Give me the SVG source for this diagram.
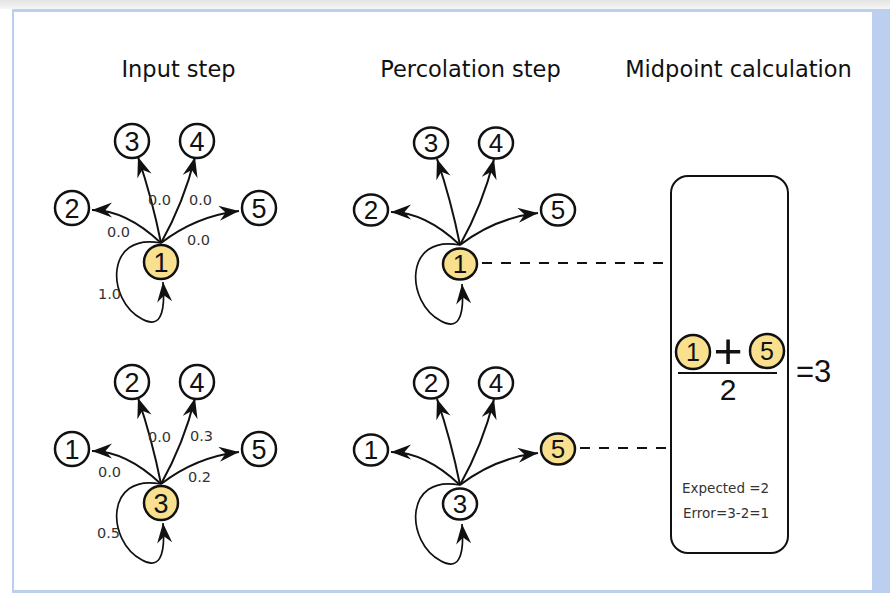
<svg xmlns="http://www.w3.org/2000/svg" xmlns:xlink="http://www.w3.org/1999/xlink" width="890" height="593" viewBox="0 0 890 593">
  <style>
    .title { font-family: "DejaVu Sans", Verdana, sans-serif; font-size: 22.5px; fill: #111; text-anchor: middle; }
    .wt { font-family: "DejaVu Sans", Verdana, sans-serif; font-size: 14.5px; fill: #333; }
    .node { fill: #fff; stroke: #111; stroke-width: 2.5; }
    .hot { fill: #f8e08e; }
    .nl { font-family: "Liberation Sans", Arial, sans-serif; font-size: 27px; fill: #111; text-anchor: middle; }
    .nm { font-family: "Liberation Sans", Arial, sans-serif; font-size: 26px; fill: #111; text-anchor: middle; }
    .edge { fill: none; stroke: #111; stroke-width: 2; marker-end: url(#arrow); }
    .loop { fill: none; stroke: #111; stroke-width: 1.7; marker-end: url(#arrow); }
    .dash { stroke: #111; stroke-width: 1.8; stroke-dasharray: 10 9; }
    .big { font-family: "Liberation Sans", Arial, sans-serif; font-size: 31px; fill: #111; }
  </style>
  <defs>
    <linearGradient id="topband" x1="0" y1="0" x2="0" y2="1">
      <stop offset="0" stop-color="#e4e4e4"/>
      <stop offset="1" stop-color="#f6f6f6"/>
    </linearGradient>
    <marker id="arrow" markerUnits="userSpaceOnUse" markerWidth="21" markerHeight="16" refX="20" refY="7.5" orient="auto">
      <path d="M0,0 L20,7.5 L0,15 L6.5,7.5 Z" fill="#111"/>
    </marker>
    <!-- fan of five out-edges from the centre node, drawn around origin (161,243) -->
    <g id="fan">
      <path class="edge" d="M161,243 Q126,210 92,210"/>
      <path class="edge" d="M161,243 Q152,198 138,157"/>
      <path class="edge" d="M161,243 Q184,202 195,157"/>
      <path class="edge" d="M161,243 Q196,216 239,211"/>
      <path class="loop" d="M161,243 C105,232 106,300 142,319 C158,328 166,318 163,282"/>
    </g>
  </defs>

  <!-- page frame -->
  <rect x="0" y="0" width="890" height="593" fill="#fff"/>
  <rect x="0" y="0" width="890" height="9" fill="url(#topband)"/>
  <rect x="12" y="9" width="878" height="3" fill="#bccfee"/>
  <rect x="12" y="9" width="2" height="584" fill="#bccfee"/>
  <rect x="872" y="9" width="18" height="584" fill="#bccfee"/>
  <rect x="12" y="590" width="878" height="3" fill="#bccfee"/>

  <!-- column titles -->
  <text class="title" x="178.5" y="77">Input step</text>
  <text class="title" x="470.5" y="77">Percolation step</text>
  <text class="title" x="738.5" y="77">Midpoint calculation</text>

  <!-- connectors -->
  <g id="connectors">
    <use xlink:href="#fan"/>
    <use xlink:href="#fan" transform="translate(0,241)"/>
    <use xlink:href="#fan" transform="translate(299,2)"/>
    <use xlink:href="#fan" transform="translate(299,242)"/>
    <line class="dash" x1="482" y1="263" x2="668" y2="263"/>
    <line class="dash" x1="580" y1="448" x2="668" y2="448"/>
  </g>

  <!-- edge weights -->
  <g id="weights-top">
    <text class="wt" x="148" y="205">0.0</text>
    <text class="wt" x="189" y="205">0.0</text>
    <text class="wt" x="107" y="237">0.0</text>
    <text class="wt" x="187" y="245">0.0</text>
    <text class="wt" x="98" y="299">1.0</text>
  </g>
  <g id="weights-bottom">
    <text class="wt" x="148" y="442">0.0</text>
    <text class="wt" x="190" y="441">0.3</text>
    <text class="wt" x="98" y="477">0.0</text>
    <text class="wt" x="188" y="482">0.2</text>
    <text class="wt" x="97" y="538">0.5</text>
  </g>

  <!-- input step, top graph -->
  <g id="a1"><circle class="node hot" cx="161" cy="262" r="17"/><text class="nl" x="161" y="271.5">1</text></g>
  <g id="a2"><circle class="node" cx="72" cy="208" r="17"/><text class="nl" x="72" y="217.5">2</text></g>
  <g id="a3"><circle class="node" cx="132" cy="141" r="17"/><text class="nl" x="132" y="150.5">3</text></g>
  <g id="a4"><circle class="node" cx="197" cy="141" r="17"/><text class="nl" x="197" y="150.5">4</text></g>
  <g id="a5"><circle class="node" cx="259" cy="208" r="17"/><text class="nl" x="259" y="217.5">5</text></g>

  <!-- input step, bottom graph -->
  <g id="b3"><circle class="node hot" cx="161" cy="503" r="17"/><text class="nl" x="161" y="512.5">3</text></g>
  <g id="b1"><circle class="node" cx="72" cy="449" r="17"/><text class="nl" x="72" y="458.5">1</text></g>
  <g id="b2"><circle class="node" cx="132" cy="382" r="17"/><text class="nl" x="132" y="391.5">2</text></g>
  <g id="b4"><circle class="node" cx="197" cy="382" r="17"/><text class="nl" x="197" y="391.5">4</text></g>
  <g id="b5"><circle class="node" cx="259" cy="449" r="17"/><text class="nl" x="259" y="458.5">5</text></g>

  <!-- percolation step, top graph -->
  <g id="c1"><ellipse class="node hot" cx="460" cy="264" rx="17" ry="15.5"/><text class="nm" x="460" y="273">1</text></g>
  <g id="c2"><ellipse class="node" cx="371" cy="210" rx="17" ry="15.5"/><text class="nm" x="371" y="219">2</text></g>
  <g id="c3"><ellipse class="node" cx="431" cy="143" rx="17" ry="15.5"/><text class="nm" x="431" y="152">3</text></g>
  <g id="c4"><ellipse class="node" cx="496" cy="143" rx="17" ry="15.5"/><text class="nm" x="496" y="152">4</text></g>
  <g id="c5"><ellipse class="node" cx="558" cy="210" rx="17" ry="15.5"/><text class="nm" x="558" y="219">5</text></g>

  <!-- percolation step, bottom graph -->
  <g id="d3"><ellipse class="node" cx="460" cy="504" rx="17" ry="15.5"/><text class="nm" x="460" y="513">3</text></g>
  <g id="d1"><ellipse class="node" cx="371" cy="450" rx="17" ry="15.5"/><text class="nm" x="371" y="459">1</text></g>
  <g id="d2"><ellipse class="node" cx="431" cy="383" rx="17" ry="15.5"/><text class="nm" x="431" y="392">2</text></g>
  <g id="d4"><ellipse class="node" cx="496" cy="383" rx="17" ry="15.5"/><text class="nm" x="496" y="392">4</text></g>
  <g id="d5"><ellipse class="node hot" cx="558" cy="449" rx="17" ry="15.5"/><text class="nm" x="558" y="458">5</text></g>

  <!-- midpoint calculation panel -->
  <g id="midpoint">
    <rect x="671" y="176" width="117" height="377" rx="17" ry="17" fill="#fff" stroke="#111" stroke-width="2"/>
    <circle class="node hot" cx="693" cy="352" r="17"/>
    <text class="nm" x="693" y="361" style="font-size:25px">1</text>
    <text x="728" y="367.5" text-anchor="middle" style="font-family:'Liberation Sans',Arial,sans-serif;font-size:50px;fill:#111">+</text>
    <circle class="node hot" cx="767" cy="351" r="17"/>
    <text class="nm" x="767" y="360" style="font-size:25px">5</text>
    <line x1="678" y1="373" x2="777" y2="373" stroke="#111" stroke-width="2"/>
    <text class="big" x="728" y="400" text-anchor="middle" style="font-size:30px">2</text>
    <text class="big" x="796" y="382">=3</text>
    <text class="wt" x="682" y="493" style="font-size:13.5px">Expected =2</text>
    <text class="wt" x="683" y="518" style="font-size:13.5px">Error=3-2=1</text>
  </g>
</svg>
